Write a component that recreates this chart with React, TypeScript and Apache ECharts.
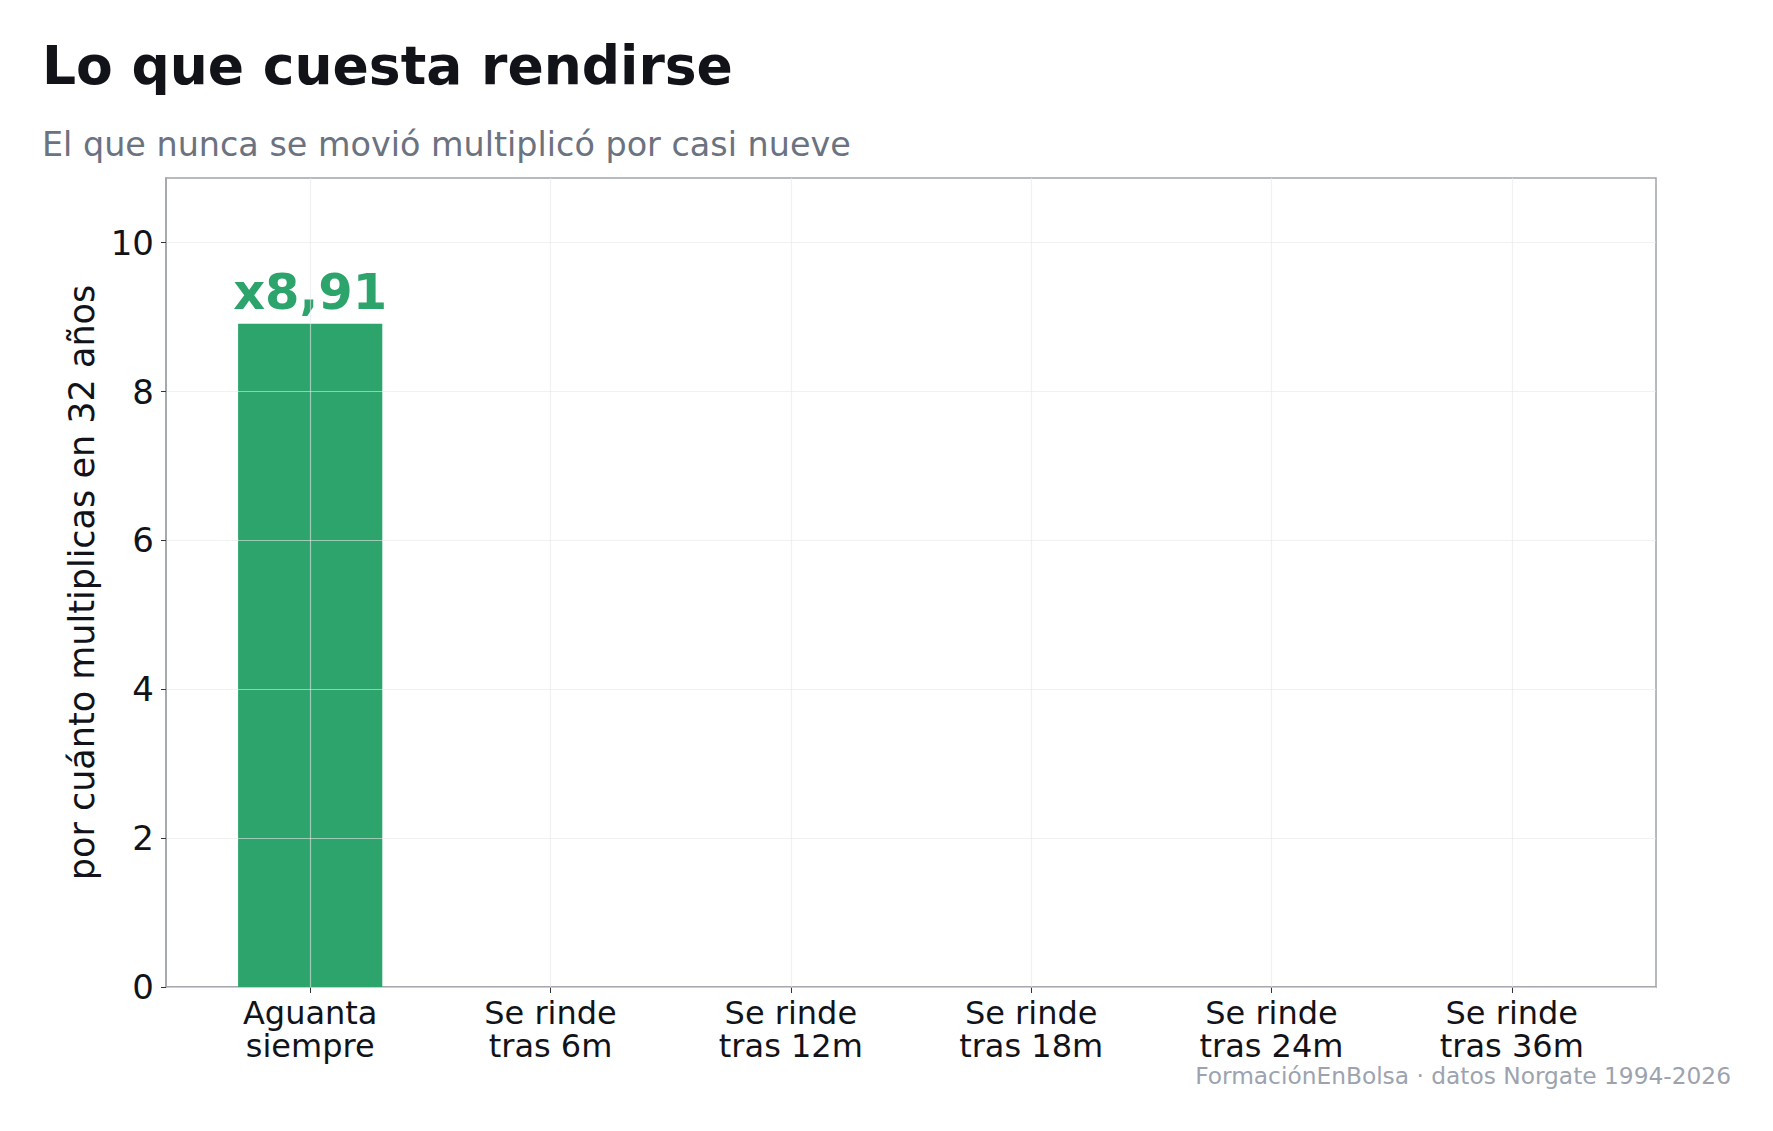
import { useEffect, useRef } from 'react';
import * as echarts from 'echarts';

const categories = [
  'Aguanta\nsiempre',
  'Se rinde\ntras 6m',
  'Se rinde\ntras 12m',
  'Se rinde\ntras 18m',
  'Se rinde\ntras 24m',
  'Se rinde\ntras 36m',
];
// only the first bar has been drawn in the reference
const multiples: (number | null)[] = [8.91, null, null, null, null, null];
const yTicks = [0, 2, 4, 6, 8, 10];

const FONT = 'DejaVu Sans';
const GREEN = '#2ca46c';
const GRID_LINE = 'rgba(229,231,235,0.6)';
const FRAME = '#a0a4ab';

export default function App() {
  const chartRef = useRef<HTMLDivElement>(null);

  useEffect(() => {
    document.body.style.margin = '0';
    if (!chartRef.current) return;
    const chart = echarts.init(chartRef.current, undefined, { renderer: 'svg' });

    const idx = categories.map((_, i) => i);

    chart.setOption({
      animation: false,
      backgroundColor: '#ffffff',
      title: [
        {
          text: 'Lo que cuesta rendirse',
          left: 42,
          top: 38,
          padding: 0,
          textStyle: { fontFamily: FONT, fontSize: 53.5, fontWeight: 'bold', color: '#111318' },
        },
        {
          text: 'El que nunca se movió multiplicó por casi nueve',
          left: 42,
          top: 128,
          padding: 0,
          textStyle: { fontFamily: FONT, fontSize: 33.4, fontWeight: 'normal', color: '#6b7280' },
        },
        {
          text: 'FormaciónEnBolsa · datos Norgate 1994-2026',
          right: 42,
          top: 1064,
          padding: 0,
          textStyle: { fontFamily: FONT, fontSize: 23.3, fontWeight: 'normal', color: '#9ca3af' },
        },
      ],
      grid: {
        left: 166,
        right: 117,
        top: 178,
        bottom: 144,
        show: true,
        borderColor: FRAME,
        borderWidth: 1.5,
        backgroundColor: 'transparent',
      },
      xAxis: {
        type: 'value',
        min: -0.6,
        max: 5.6,
        axisLine: { onZero: false, lineStyle: { color: FRAME, width: 1.5 } },
        axisTick: { show: true, length: 6, customValues: idx, lineStyle: { color: '#333', width: 1 } },
        splitLine: { show: false },
        axisLabel: {
          customValues: idx,
          margin: 9,
          fontFamily: FONT,
          fontSize: 32,
          lineHeight: 33,
          color: '#111318',
          formatter: (v: number) => categories[Math.round(v)] ?? '',
        },
      },
      yAxis: {
        type: 'value',
        min: 0,
        max: 10.87,
        interval: 2,
        z: 3,
        name: 'por cuánto multiplicas en 32 años',
        nameLocation: 'middle',
        nameGap: 63,
        nameTextStyle: { fontFamily: FONT, fontSize: 35, color: '#111318' },
        axisLine: { show: true, onZero: false, lineStyle: { color: FRAME, width: 1.5 } },
        axisTick: { show: true, length: 5, customValues: yTicks, lineStyle: { color: '#333', width: 1 } },
        splitLine: { show: true, lineStyle: { color: GRID_LINE, width: 1.2 } },
        axisLabel: {
          margin: 12,
          fontFamily: FONT,
          fontSize: 34,
          color: '#111318',
          customValues: yTicks,
        },
      },
      series: [
        {
          type: 'bar',
          data: multiples.map((v, i) => [i, v]),
          barWidth: '60%',
          itemStyle: { color: GREEN },
          label: {
            show: true,
            position: 'top',
            distance: 7,
            fontFamily: FONT,
            fontSize: 49.5,
            fontWeight: 'bold',
            color: GREEN,
            formatter: (p: any) =>
              p.value[1] == null ? '' : 'x' + Number(p.value[1]).toFixed(2).replace('.', ','),
          },
          markLine: {
            silent: true,
            symbol: 'none',
            label: { show: false },
            lineStyle: { color: GRID_LINE, width: 1.2, type: 'solid' },
            data: idx.map((i) => ({ xAxis: i })),
          },
        },
      ],
    });

    return () => {
      chart.dispose();
    };
  }, []);

  return <div ref={chartRef} style={{ width: 1773, height: 1131 }} />;
}
